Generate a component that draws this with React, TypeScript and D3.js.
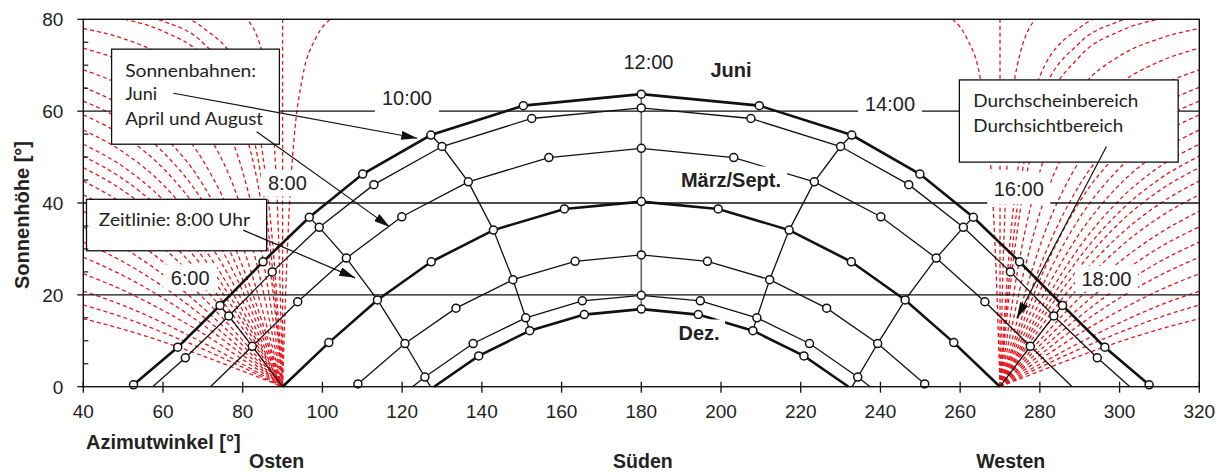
import React from 'react';
import * as d3 from 'd3';

const W = 1227;
const H = 473;

// Sonnenbahnen: [Azimut, Sonnenhöhe] zu den vollen Stunden
const juni = [[52.6, 0.4], [63.7, 8.6], [74.3, 17.7], [85.1, 27.2], [96.7, 36.9], [110.1, 46.3], [127.2, 54.8], [150.4, 61.2], [180, 63.7], [209.6, 61.2], [232.8, 54.8], [249.9, 46.3], [263.3, 36.9], [274.9, 27.2], [285.7, 17.7], [296.3, 8.6], [307.4, 0.4]];
const maiJuli = [[65.6, 6.3], [76.5, 15.4], [87.4, 25.0], [99.2, 34.7], [112.9, 44.0], [130.0, 52.3], [152.5, 58.4], [180, 60.7], [207.5, 58.4], [230.0, 52.3], [247.1, 44.0], [260.8, 34.7], [272.6, 25.0], [283.5, 15.4], [294.4, 6.3]];
const aprilAugust = [[82.4, 8.8], [93.8, 18.5], [106.0, 28.0], [119.9, 37.0], [136.6, 44.6], [156.8, 49.9], [180, 51.9], [203.2, 49.9], [223.4, 44.6], [240.1, 37.0], [254.0, 28.0], [266.2, 18.5], [277.6, 8.8]];
const maerzSept = [[101.6, 9.6], [113.8, 18.9], [127.3, 27.2], [142.9, 34.1], [160.7, 38.7], [180, 40.3], [199.3, 38.7], [217.1, 34.1], [232.7, 27.2], [246.2, 18.9], [258.4, 9.6]];
const febOkt = [[108.9, 0.6], [120.7, 9.4], [133.5, 17.1], [147.8, 23.3], [163.4, 27.3], [180, 28.7], [196.6, 27.3], [212.2, 23.3], [226.5, 17.1], [239.3, 9.4], [251.1, 0.6]];
const janNov = [[125.7, 2.1], [137.8, 9.4], [151.0, 15.0], [165.2, 18.7], [180, 19.9], [194.8, 18.7], [209.0, 15.0], [222.2, 9.4], [234.3, 2.1]];
const dez = [[139.2, 6.7], [152.0, 12.2], [165.7, 15.7], [180, 16.9], [194.3, 15.7], [208.0, 12.2], [220.8, 6.7]];

const sunPaths = [juni, maiJuli, aprilAugust, maerzSept, febOkt, janNov, dez];
const thickPath = [true, false, false, true, false, false, true];
// Azimut bei Sonnenaufgang / -untergang (Höhe 0)
const riseAz = [null, 57.4, 71.9, 90, 108.1, 122.6, 128.0];
const setAz = [null, 302.6, 288.1, 270, 251.9, 237.4, 232.0];

// Zeitlinien
const zeit6 = [[74.3, 17.7], [76.5, 15.4], [82.4, 8.8], [90, 0]];
const zeit8 = [[96.7, 36.9], [99.2, 34.7], [106.0, 28.0], [113.8, 18.9], [120.7, 9.4], [125.7, 2.1], [127.1, 0]];
const zeit10 = [[127.2, 54.8], [130.0, 52.3], [136.6, 44.6], [142.9, 34.1], [147.8, 23.3], [151.0, 15.0], [152.0, 12.2]];
const zeit12 = [[180, 63.7], [180, 16.9]];
const zeit14 = [[232.8, 54.8], [230.0, 52.3], [223.4, 44.6], [217.1, 34.1], [212.2, 23.3], [209.0, 15.0], [208.0, 12.2]];
const zeit16 = [[263.3, 36.9], [260.8, 34.7], [254.0, 28.0], [246.2, 18.9], [239.3, 9.4], [234.3, 2.1], [232.9, 0]];
const zeit18 = [[285.7, 17.7], [283.5, 15.4], [277.6, 8.8], [270, 0]];
const zeitLines = [zeit6, zeit8, zeit10, zeit14, zeit16, zeit18];

// Durchschein-/Durchsichtbereich (rote Linien), Höhen an festen Azimuten
const fanAzOst = [40, 50, 60, 70, 80, 85, 88, 89, 90];
const fanAzWest = [320, 310, 300, 290, 280, 275, 272, 271, 270];
const fanAlt = [
  [14.8, 12.5, 9.8, 6.7, 3.4, 1.7, 0.7, 0.3, 0],
  [17.8, 15.1, 11.8, 8.2, 4.2, 2.1, 0.8, 0.4, 0],
  [20.8, 17.7, 13.9, 9.6, 4.9, 2.5, 1.0, 0.5, 0],
  [24.6, 21.0, 16.6, 11.6, 5.9, 3.0, 1.2, 0.6, 0],
  [28.2, 24.2, 19.3, 13.5, 6.9, 3.5, 1.4, 0.7, 0],
  [31.5, 27.2, 21.8, 15.3, 7.9, 4.0, 1.6, 0.8, 0],
  [34.8, 30.3, 24.4, 17.2, 9.0, 4.5, 1.8, 0.9, 0],
  [38.2, 33.4, 27.2, 19.4, 10.1, 5.1, 2.1, 1.0, 0],
  [41.8, 36.9, 30.3, 21.8, 11.5, 5.8, 2.3, 1.2, 0],
  [44.8, 39.8, 33.0, 23.9, 12.7, 6.5, 2.6, 1.3, 0],
  [47.7, 42.7, 35.7, 26.1, 14.0, 7.1, 2.9, 1.4, 0],
  [50.2, 45.2, 38.1, 28.2, 15.2, 7.8, 3.1, 1.6, 0],
  [52.8, 47.9, 40.7, 30.5, 16.6, 8.5, 3.4, 1.7, 0],
  [55.9, 51.1, 44.0, 33.4, 18.5, 9.5, 3.9, 1.9, 0],
  [59.2, 54.6, 47.6, 36.8, 20.8, 10.8, 4.4, 2.2, 0],
  [62.2, 57.9, 51.1, 40.3, 23.3, 12.2, 5.0, 2.5, 0],
  [65.2, 61.1, 54.7, 44.0, 26.1, 13.8, 5.6, 2.8, 0],
  [69.0, 65.4, 59.5, 49.3, 30.6, 16.5, 6.8, 3.4, 0],
  [73.7, 70.8, 65.9, 56.8, 37.8, 21.3, 8.9, 4.5, 0],
  [78.0, 75.8, 72.0, 64.5, 46.8, 28.2, 12.1, 6.1, 0],
  [81.7, 80.1, 77.4, 71.9, 57.3, 38.0, 17.4, 8.9, 0],
  [83.1, 81.8, 79.6, 74.9, 62.1, 43.4, 20.8, 10.7, 0],
  [84.7, 83.6, 81.8, 78.2, 67.6, 50.6, 26.0, 13.7, 0],
  [87.9, 87.5, 86.8, 85.4, 81.0, 72.4, 51.7, 32.3, 0],
];
const steilOst = [
  [[90, 0], [90, 80]],
  [[90, 0], [91, 25.6], [92, 43.8], [93, 55.2], [95, 67.4], [98.4, 76.0], [101.9, 80]],
];
const steilWest = [
  [[270, 0], [270, 80]],
  [[258.1, 80], [261.6, 76.0], [265, 67.4], [267, 55.2], [268, 43.8], [269, 25.6], [270, 0]],
];

const xTicks = [40, 60, 80, 100, 120, 140, 160, 180, 200, 220, 240, 260, 280, 300, 320];
const yTicks = [0, 20, 40, 60, 80];
const yMinor = [5, 10, 15, 25, 30, 35, 45, 50, 55, 65, 70, 75];
const gridY = [20, 40, 60];

const timeLabels = [
  { t: '6:00', az: 66.8, alt: 23.8, w: 40, hh: 13 },
  { t: '8:00', az: 91.2, alt: 44.3, w: 39, hh: 13 },
  { t: '10:00', az: 121.2, alt: 62.8, w: 50, hh: 14.5 },
  { t: '12:00', az: 181.8, alt: 70.8, w: 49, hh: 12 },
  { t: '14:00', az: 242.4, alt: 61.7, w: 50, hh: 14 },
  { t: '16:00', az: 274.7, alt: 43.2, w: 49, hh: 16 },
  { t: '18:00', az: 296.7, alt: 23.5, w: 49, hh: 13 },
];
const boldLabels = [
  { t: 'Juni', az: 202.5, alt: 69.0, w: 42 },
  { t: 'März/Sept.', az: 202.5, alt: 45.0, w: 102 },
  { t: 'Dez.', az: 194.5, alt: 11.7, w: 42 },
];

const RED = '#e8161e';
const INK = '#111';
const ARIAL = "'Liberation Sans', Arial, sans-serif";
const CAL = "Lato, 'Open Sans', sans-serif";

export default function App() {
  const x = d3.scaleLinear().domain([40, 320]).range([83.3, 1199.3]);
  const y = d3.scaleLinear().domain([0, 80]).range([386.7, 19.3]);
  const straight = d3.line<number[]>().x(d => x(d[0])).y(d => y(d[1]));
  const smooth = d3.line<number[]>().x(d => x(d[0])).y(d => y(d[1])).curve(d3.curveMonotoneX);

  const [xl, xr] = x.range();
  const [yb, yt] = y.range();

  const fanOst = fanAlt.map(a => a.map((v, i) => [fanAzOst[i], v]));
  const fanWest = fanAlt.map(a => a.map((v, i) => [fanAzWest[i], v]).reverse());

  const fullPaths = sunPaths.map((p, i) =>
    riseAz[i] == null ? p : [[riseAz[i], 0], ...p, [setAz[i], 0]]
  );

  const boxes = [
    { az0: 47.1, az1: 89.2, a0: 73.5, a1: 52.8 },
    { az0: 40.8, az1: 86.0, a0: 40.8, a1: 29.6 },
    { az0: 259.8, az1: 314.7, a0: 66.8, a1: 48.9 },
  ];
  const boxTexts = [
    { t: 'Sonnenbahnen:', az: 50.5, alt: 67.4, w: 131 },
    { t: 'Juni', az: 50.5, alt: 62.4, w: 32 },
    { t: 'April und August', az: 50.5, alt: 57.0, w: 138 },
    { t: 'Zeitlinie: 8:00 Uhr', az: 43.9, alt: 35.0, w: 151 },
    { t: 'Durchscheinbereich', az: 263.3, alt: 61.0, w: 165 },
    { t: 'Durchsichtbereich', az: 263.3, alt: 55.5, w: 150 },
  ];
  const arrows = [
    [[62.6, 63.9], [123.8, 54.1]],
    [[83.5, 55.5], [116.9, 34.8]],
    [[80.1, 34.1], [108.2, 23.7]],
    [[296.7, 52.3], [274.2, 14.9]],
  ];

  return (
    <svg width={W} height={H} style={{ position: 'absolute', left: 0, top: 0, background: '#fff' }}>
      <defs>
        <clipPath id="plot">
          <rect x={xl} y={yt} width={xr - xl} height={yb - yt} />
        </clipPath>
        <marker id="arr" viewBox="0 0 16 9" refX="16" refY="4.5" markerWidth="16" markerHeight="9"
          markerUnits="userSpaceOnUse" orient="auto">
          <path d="M0,0 L16,4.5 L0,9 z" fill={INK} />
        </marker>
      </defs>

      {/* rote Linien */}
      <g clipPath="url(#plot)" fill="none" stroke={RED} strokeWidth={1.3} strokeDasharray="4 3">
        {fanOst.map((p, i) => <path key={'o' + i} d={smooth(p) || ''} />)}
        {fanWest.map((p, i) => <path key={'w' + i} d={smooth(p) || ''} />)}
        {steilOst.map((p, i) => <path key={'so' + i} d={smooth(p) || ''} />)}
        {steilWest.map((p, i) => <path key={'sw' + i} d={smooth(p) || ''} />)}
      </g>

      {/* Gitter */}
      {gridY.map(v => (
        <line key={v} x1={xl} x2={xr} y1={y(v)} y2={y(v)} stroke={INK} strokeWidth={1.3} />
      ))}

      {/* Zeitlinien */}
      <g fill="none" stroke={INK} strokeWidth={1.3}>
        {zeitLines.map((p, i) => <path key={i} d={straight(p) || ''} />)}
      </g>
      <path d={straight(zeit12) || ''} fill="none" stroke="#666" strokeWidth={1.6} />

      {/* Sonnenbahnen */}
      <g fill="none" stroke={INK}>
        {fullPaths.map((p, i) => (
          <path key={i} d={straight(p) || ''} strokeWidth={thickPath[i] ? 2.6 : 1.3} />
        ))}
      </g>
      <g fill="#fff" stroke={INK} strokeWidth={1.5}>
        {sunPaths.map((p, i) =>
          p.map((d, j) => <circle key={i + '-' + j} cx={x(d[0])} cy={y(d[1])} r={4} />)
        )}
      </g>

      {/* Uhrzeiten */}
      {timeLabels.map(l => (
        <g key={l.t}>
          <rect x={x(l.az) - l.w / 2 - 7} y={y(l.alt) - l.hh} width={l.w + 14} height={l.hh * 2} fill="#fff" />
          <text x={x(l.az)} y={y(l.alt)} dy="0.36em" textAnchor="middle" fontFamily={ARIAL} fontSize={20}
            fill="#222">{l.t}</text>
        </g>
      ))}
      {boldLabels.map(l => (
        <g key={l.t}>
          <rect x={x(l.az) - l.w / 2 - 5} y={y(l.alt) - 13.5} width={l.w + 10} height={27} fill="#fff" />
          <text x={x(l.az)} y={y(l.alt)} dy="0.36em" textAnchor="middle" fontFamily={ARIAL} fontSize={20}
            fontWeight="bold" fill="#222">{l.t}</text>
        </g>
      ))}

      {/* Textfelder */}
      {boxes.map((b, i) => (
        <rect key={i} x={x(b.az0)} y={y(b.a0)} width={x(b.az1) - x(b.az0)} height={y(b.a1) - y(b.a0)}
          fill="#fff" stroke={INK} strokeWidth={1.3} />
      ))}
      {boxTexts.map(t => (
        <text key={t.t} x={x(t.az)} y={y(t.alt)} fontFamily={CAL} fontSize={18} fill="#222"
          textLength={t.w} lengthAdjust="spacingAndGlyphs">{t.t}</text>
      ))}
      {arrows.map((a, i) => (
        <line key={i} x1={x(a[0][0])} y1={y(a[0][1])} x2={x(a[1][0])} y2={y(a[1][1])}
          stroke={INK} strokeWidth={1.2} markerEnd="url(#arr)" />
      ))}

      {/* Achsen */}
      <rect x={xl} y={yt} width={xr - xl} height={yb - yt} fill="none" stroke={INK} strokeWidth={1.4} />
      {yTicks.map(v => (
        <g key={v}>
          <line x1={xl - 6} x2={xl} y1={y(v)} y2={y(v)} stroke={INK} strokeWidth={1.3} />
          <text x={xl - 20} y={y(v)} dy="0.36em" textAnchor="end" fontFamily={ARIAL} fontSize={19}
            fill="#222">{v}</text>
        </g>
      ))}
      {yMinor.map(v => (
        <line key={v} x1={xl} x2={xl + 5} y1={y(v)} y2={y(v)} stroke={INK} strokeWidth={1.2} />
      ))}
      {xTicks.map(v => (
        <g key={v}>
          <line x1={x(v)} x2={x(v)} y1={yb - 5} y2={yb + 6} stroke={INK} strokeWidth={1.3} />
          <text x={x(v)} y={411} dy="0.36em" textAnchor="middle" fontFamily={ARIAL} fontSize={19}
            fill="#222">{v}</text>
        </g>
      ))}

      <text transform="translate(21.5,215) rotate(-90)" dy="0.36em" textAnchor="middle" fontFamily={ARIAL}
        fontSize={20} fontWeight="bold" fill="#222">Sonnenhöhe [°]</text>
      <text x={86} y={441.7} dy="0.36em" fontFamily={ARIAL} fontSize={20} fontWeight="bold"
        fill="#222">Azimutwinkel [°]</text>
      <text x={x(88.5)} y={461} dy="0.36em" textAnchor="middle" fontFamily={ARIAL} fontSize={19.5}
        fontWeight="bold" fill="#222">Osten</text>
      <text x={x(180.4)} y={461} dy="0.36em" textAnchor="middle" fontFamily={ARIAL} fontSize={19.5}
        fontWeight="bold" fill="#222">Süden</text>
      <text x={x(272.7)} y={461} dy="0.36em" textAnchor="middle" fontFamily={ARIAL} fontSize={19.5}
        fontWeight="bold" fill="#222">Westen</text>
    </svg>
  );
}
